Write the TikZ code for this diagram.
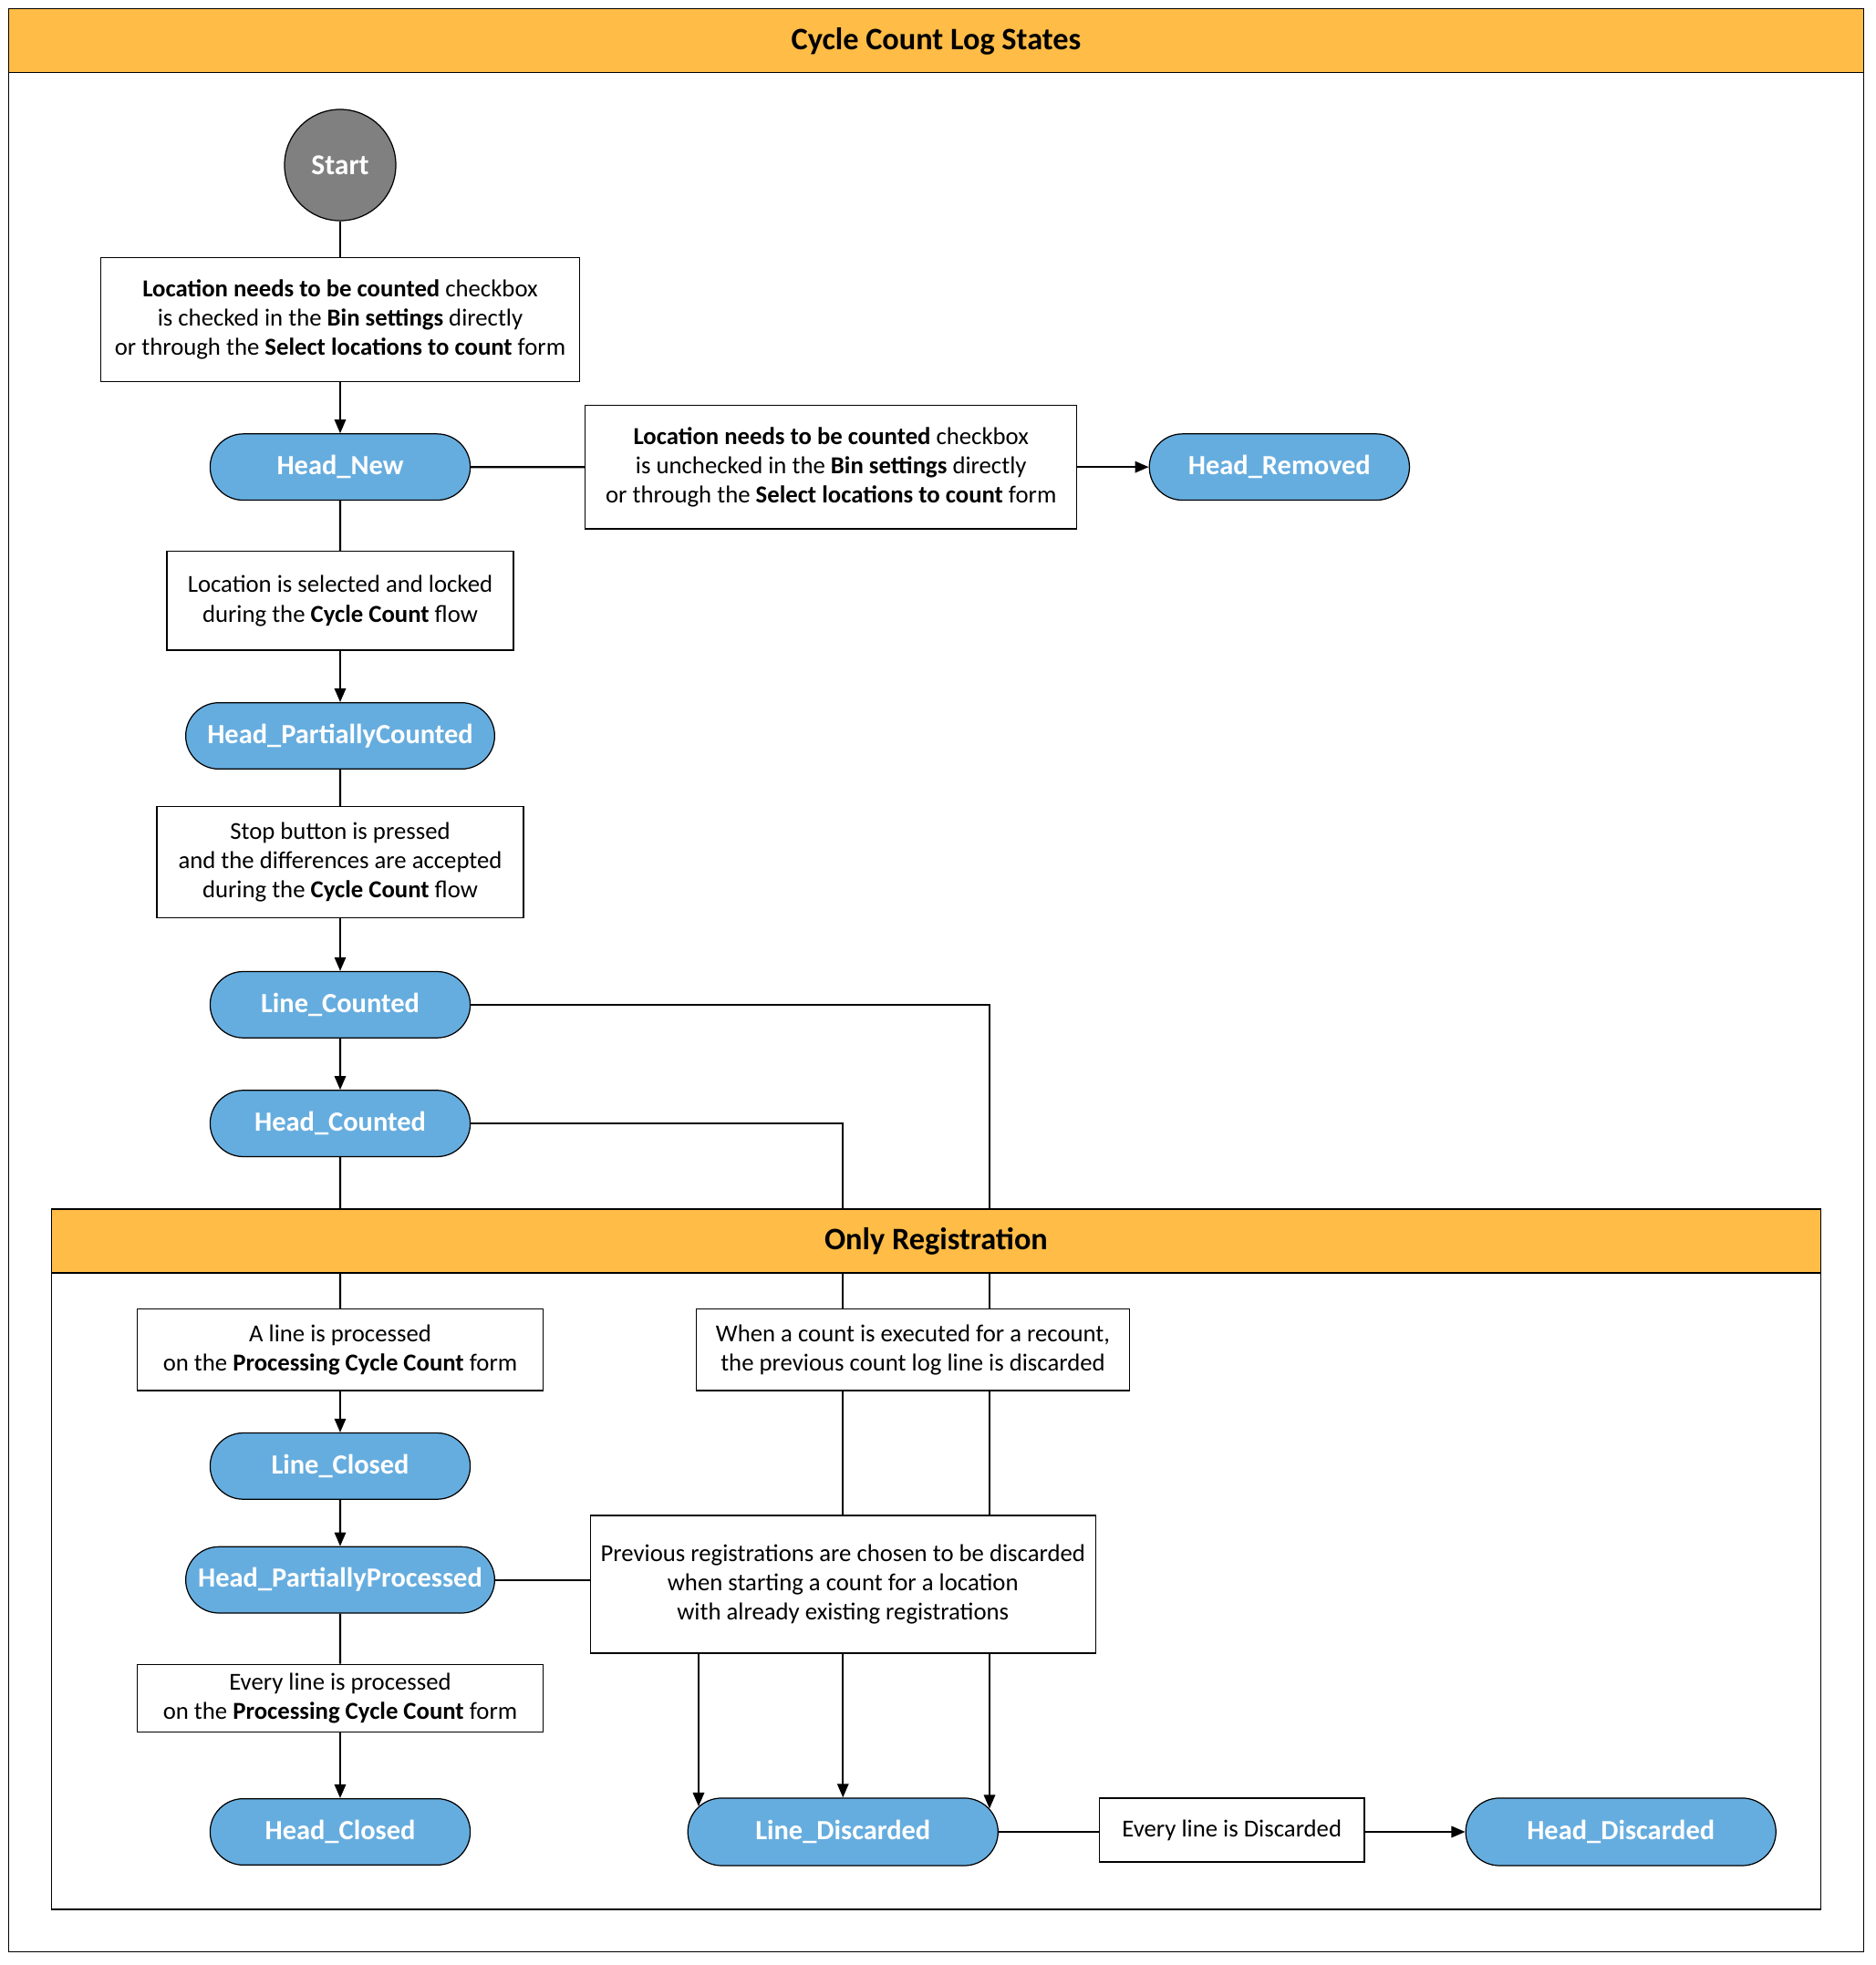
\documentclass[tikz,border=0pt]{standalone}
\usepackage{fontspec}
\setmainfont{Carlito}
\usetikzlibrary{shapes.misc,arrows.meta,calc}
\definecolor{bandorange}{HTML}{FFBC46}
\definecolor{stateblue}{HTML}{66ADDF}
\definecolor{startgray}{HTML}{808080}
\tikzset{
  txtbox/.style={draw=black, line width=0.9pt, fill=white, align=center, inner sep=2pt,
    font=\fontsize{19.5}{23.5}\selectfont},
  state/.style={rounded rectangle, draw=black, line width=0.9pt, fill=stateblue,
    text=white, font=\fontsize{22.2}{26}\selectfont\bfseries, minimum height=53pt, inner sep=2pt},
  conn/.style={line width=1.6pt},
  arr/.style={line width=1.6pt, -{Triangle[length=11pt,width=9pt]}},
  bandtitle/.style={font=\fontsize{25}{29}\selectfont\bfseries},
}
\begin{document}
\begin{tikzpicture}[x=1pt,y=-1pt]
\useasboundingbox (0,0) rectangle (1500,1571.5);
% outer frame
\draw[line width=1pt, fill=white] (7,7) rectangle (1490,1561);
\draw[line width=1pt, fill=bandorange] (7,7) rectangle (1490,58);
\node[bandtitle] (title) at (748.5,33) {Cycle Count Log States};

% nodes
\node[circle, draw=black, line width=0.9pt, fill=startgray, text=white, minimum size=89pt,
  font=\fontsize{23}{27}\selectfont\bfseries] (start) at (272,132) {Start};
\node[txtbox, minimum width=383pt, minimum height=99pt] (b1) at (272,255.5)
  {\textbf{Location needs to be counted} checkbox\\ is checked in the \textbf{Bin settings} directly\\ or through the \textbf{Select locations to count} form};
\node[state, minimum width=212pt] (hnew) at (272,373.5) {Head\_New};
\node[txtbox, minimum width=393pt, minimum height=99pt] (b2) at (664.5,373.5)
  {\textbf{Location needs to be counted} checkbox\\ is unchecked in the \textbf{Bin settings} directly\\ or through the \textbf{Select locations to count} form};
\node[state, minimum width=212pt] (hrem) at (1023,373.5) {Head\_Removed};
\node[txtbox, minimum width=277pt, minimum height=79pt] (b3) at (272,480.5)
  {Location is selected and locked\\ during the \textbf{Cycle Count} flow};
\node[state, minimum width=251pt] (hpc) at (272,588.5) {Head\_PartiallyCounted};
\node[txtbox, minimum width=293pt, minimum height=89pt] (b4) at (272,689.5)
  {Stop button is pressed\\ and the differences are accepted\\ during the \textbf{Cycle Count} flow};
\node[state, minimum width=212pt] (lc) at (272,803.5) {Line\_Counted};
\node[state, minimum width=212pt] (hc) at (272,898.5) {Head\_Counted};

\node[txtbox, minimum width=324pt, minimum height=65pt] (b5) at (272,1079.5)
  {A line is processed\\ on the \textbf{Processing Cycle Count} form};
\node[txtbox, minimum width=346pt, minimum height=65pt] (b6) at (730,1079.5)
  {When a count is executed for a recount,\\ the previous count log line is discarded};
\node[state, minimum width=212pt] (lclosed) at (272,1172.5) {Line\_Closed};
\node[state, minimum width=251pt] (hpp) at (272,1263.5) {Head\_PartiallyProcessed};
\node[txtbox, minimum width=404pt, minimum height=110pt] (b7) at (674,1267)
  {Previous registrations are chosen to be discarded\\ when starting a count for a location\\ with already existing registrations};
\node[txtbox, minimum width=324pt, minimum height=54pt] (b8) at (272,1358)
  {Every line is processed\\ on the \textbf{Processing Cycle Count} form};
\node[state, minimum width=212pt] (hclosed) at (272,1465) {Head\_Closed};
\node[state, minimum width=252pt, minimum height=54pt] (ld) at (674,1465) {Line\_Discarded};
\node[txtbox, minimum width=212pt, minimum height=51pt] (b9) at (985,1463.5) {Every line is Discarded};
\node[state, minimum width=252pt, minimum height=54pt] (hd) at (1296,1465) {Head\_Discarded};

\coordinate (xr) at (ld.9.15);
\coordinate (xl) at (ld.170.85);

% connectors (main column)
\draw[conn] (start) -- (b1);
\draw[arr] (b1) -- (hnew);
\draw[conn] (hnew) -- (b3);
\draw[arr] (b3) -- (hpc);
\draw[conn] (hpc) -- (b4);
\draw[arr] (b4) -- (lc);
\draw[arr] (lc) -- (hc);
\draw[conn] (hc) -- (b5);
\draw[arr] (b5) -- (lclosed);
\draw[arr] (lclosed) -- (hpp);
\draw[conn] (hpp) -- (b8);
\draw[arr] (b8) -- (hclosed);
% side branch
\draw[conn] (hnew) -- (b2);
\draw[arr] (b2) -- (hrem);
% right channels
\draw[conn] (lc.east) -| (b6.north -| xr);
\draw[conn] (b6.south -| xr) -- (b7.north -| xr);
\draw[arr] (b7.south -| xr) -- (xr);
\draw[conn] (hc.east) -| (b6.north -| ld.north);
\draw[conn] (b6.south -| ld.north) -- (b7.north -| ld.north);
\draw[arr] (b7.south -| ld.north) -- (ld.north);
\draw[conn] (hpp.east) -- (hpp.east -| b7.west);
\draw[arr] (b7.south -| xl) -- (xl);
\draw[conn] (ld.east) -- (ld.east -| b9.west);
\draw[arr] (b9.east |- hd.west) -- (hd.west);

% inner region
\draw[line width=1pt] (41,967) rectangle (1456,1527);
\draw[line width=1pt, fill=bandorange] (41,967) rectangle (1456,1018);
\node[bandtitle] (regtitle) at (748.5,992.5) {Only Registration};
\end{tikzpicture}
\end{document}
